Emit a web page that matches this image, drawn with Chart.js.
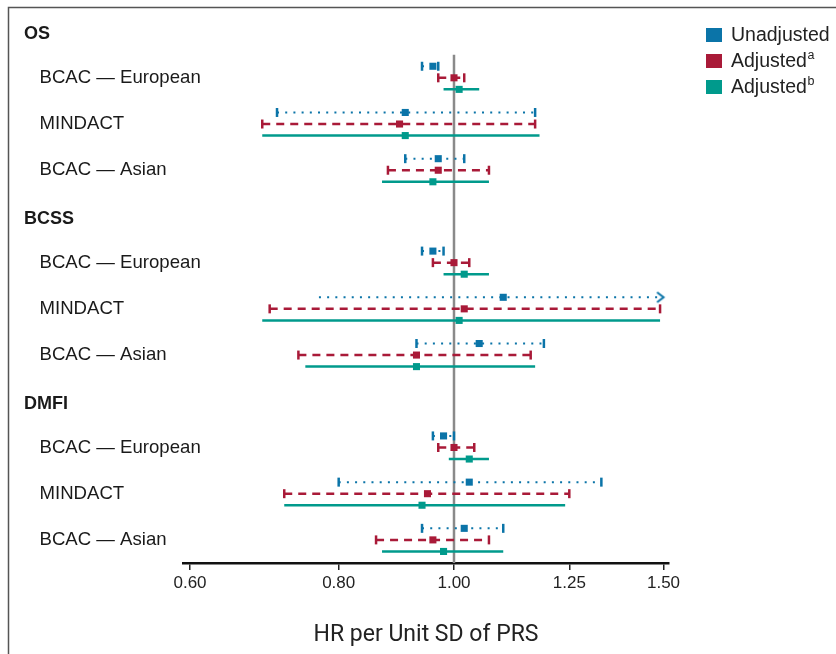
<!DOCTYPE html>
<html>
<head>
<meta charset="utf-8">
<script src="https://cdn.jsdelivr.net/npm/chart.js@4.4.1/dist/chart.umd.min.js"></script>
<style>
html,body{margin:0;padding:0;background:#fff;}
#wrap{position:relative;width:836px;height:654px;}
</style>
</head>
<body>
<div id="wrap"><canvas id="c"></canvas></div>
<script>
// ---------- data ----------
const groups = ['OS', 'BCSS', 'DMFI'];
const cohorts = ['BCAC — European', 'MINDACT', 'BCAC — Asian'];
const seriesNames = ['Unadjusted', 'Adjusted', 'Adjusted'];
const seriesSup = ['', 'a', 'b'];
const xTickValues = [0.60, 0.80, 1.00, 1.25, 1.50];

// order: OS(Eur, MINDACT, Asian), BCSS(...), DMFI(...)
const unadjHR = [0.96, 0.91, 0.97, 0.96, 1.10, 1.05, 0.98, 1.03, 1.02];
const unadjLo = [0.94, 0.71, 0.91, 0.94, 0.77, 0.93, 0.96, 0.80, 0.94];
const unadjHi = [0.97, 1.17, 1.02, 0.98, 1.50, 1.19, 1.00, 1.33, 1.10];
const unadjTruncHi = [false, false, false, false, true, false, false, false, false];
const unadjNoCapLo = [false, false, false, false, true, false, false, false, false];

const adjAHR = [1.00, 0.90, 0.97, 1.00, 1.02, 0.93, 1.00, 0.95, 0.96];
const adjALo = [0.97, 0.69, 0.88, 0.96, 0.70, 0.74, 0.97, 0.72, 0.86];
const adjAHi = [1.02, 1.17, 1.07, 1.03, 1.49, 1.16, 1.04, 1.25, 1.07];

const adjBHR = [1.01, 0.91, 0.96, 1.02, 1.01, 0.93, 1.03, 0.94, 0.98];
const adjBLo = [0.98, 0.69, 0.87, 0.98, 0.69, 0.75, 0.99, 0.72, 0.87];
const adjBHi = [1.05, 1.18, 1.07, 1.07, 1.49, 1.17, 1.07, 1.24, 1.10];

// ---------- styles ----------
const COLORS = ['#0b74a8', '#a91a38', '#009a8c'];
const FONT = "'Liberation Sans', Arial, sans-serif";

// row positions (index units)
const rowLabels = [];
const rowIsHeader = [];
groups.forEach(g => {
  rowLabels.push(g); rowIsHeader.push(true);
  cohorts.forEach(c => { rowLabels.push('   ' + c); rowIsHeader.push(false); });
});
function rowIndex(k) { const g = Math.floor(k / 3), c = k % 3; return g * 4 + 1 + c; }
const offsets = [-0.25, 0, 0.25];
const headerShift = 0.05;

function makeArrow(color) {
  const cv = document.createElement('canvas');
  cv.width = 20; cv.height = 14;
  const g = cv.getContext('2d');
  g.strokeStyle = color; g.lineWidth = 2;
  g.beginPath(); g.moveTo(3.5, 2); g.lineTo(10, 7); g.lineTo(3.5, 12); g.stroke();
  return cv;
}
const arrowBlue = makeArrow(COLORS[0]);

const series = [
  {hr: unadjHR, lo: unadjLo, hi: unadjHi, dash: [2, 6.2], width: 2, caps: true},
  {hr: adjAHR, lo: adjALo, hi: adjAHi, dash: [8, 6], width: 2.5, caps: true},
  {hr: adjBHR, lo: adjBLo, hi: adjBHi, dash: [], width: 2.5, caps: false}
];

const datasets = [];
// reference line at HR = 1
datasets.push({
  data: [{x: 1, y: 0.5}, {x: 1, y: 11.5}],
  showLine: true, borderColor: '#8a8a8a', borderWidth: 2.5,
  pointRadius: 0, order: 10, clip: false
});
series.forEach((s, si) => {
  for (let k = 0; k < 9; k++) {
    const y = rowIndex(k) + offsets[si];
    const isArrow = si === 0 && unadjTruncHi[k];
    const noCapLo = si === 0 && unadjNoCapLo[k];
    datasets.push({
      data: [{x: s.lo[k], y: y}, {x: s.hi[k], y: y}],
      showLine: true,
      borderColor: COLORS[si],
      borderWidth: s.width,
      borderDash: s.dash,
      borderCapStyle: 'butt',
      pointStyle: ['line', isArrow ? arrowBlue : 'line'],
      rotation: [90, isArrow ? 0 : 90],
      pointRadius: [s.caps && !noCapLo ? 4.5 : 0, (s.caps || isArrow) ? (isArrow ? 6 : 4.5) : 0],
      pointBorderColor: COLORS[si],
      pointBackgroundColor: COLORS[si],
      pointBorderWidth: 2.5,
      order: 5, clip: false
    });
  }
  datasets.push({
    data: s.hr.map((v, k) => ({x: v, y: rowIndex(k) + offsets[si]})),
    showLine: false,
    pointStyle: 'rect',
    pointRadius: 5,
    pointBorderWidth: 0,
    pointBackgroundColor: COLORS[si],
    pointBorderColor: COLORS[si],
    order: 1, clip: false
  });
});

// ---------- plugins ----------
const decorPlugin = {
  id: 'decor',
  afterDraw(chart) {
    const ctx = chart.ctx;
    ctx.save();
    // frame
    ctx.strokeStyle = '#555';
    ctx.lineWidth = 1.5;
    ctx.beginPath();
    ctx.moveTo(8.5, 654); ctx.lineTo(8.5, 7.5); ctx.lineTo(836, 7.5);
    ctx.stroke();
    // legend
    const ys = [35, 61, 87];
    seriesNames.forEach((name, i) => {
      ctx.fillStyle = COLORS[i];
      ctx.fillRect(706, ys[i] - 7, 16, 14);
      ctx.fillStyle = '#222';
      ctx.font = '19.5px ' + FONT;
      ctx.textBaseline = 'middle';
      ctx.textAlign = 'left';
      ctx.fillText(name, 731, ys[i] + 1);
      if (seriesSup[i]) {
        const w = ctx.measureText(name).width;
        ctx.font = '12.5px ' + FONT;
        ctx.fillText(seriesSup[i], 731 + w + 0.5, ys[i] - 5);
      }
    });
    ctx.restore();
  }
};

new Chart(document.getElementById('c'), {
  type: 'scatter',
  data: {datasets: datasets},
  options: {
    responsive: true,
    maintainAspectRatio: false,
    devicePixelRatio: 1,
    animation: false,
    events: [],
    layout: {padding: {left: 24, top: 7.5, right: 167, bottom: 5}},
    plugins: {legend: {display: false}, tooltip: {enabled: false}},
    scales: {
      x: {
        type: 'logarithmic',
        min: 0.5919,
        max: 1.516,
        afterBuildTicks: (scale) => { scale.ticks = xTickValues.map(v => ({value: v})); },
        ticks: {
          autoSkip: false,
          maxRotation: 0,
          padding: 3,
          color: '#222',
          font: {family: FONT, size: 17},
          callback: (v) => Number(v).toFixed(2)
        },
        grid: {display: true, drawOnChartArea: false, drawTicks: true, tickLength: 7, color: '#222', lineWidth: 1.5},
        border: {display: true, color: '#111', width: 2.5},
        title: {
          display: true,
          text: 'HR per Unit SD of PRS',
          color: '#222',
          font: {family: "Roboto, 'Liberation Sans', sans-serif", size: 23},
          padding: {top: 25, bottom: 0}
        }
      },
      y: {
        type: 'linear',
        min: -0.5,
        max: 11.5,
        reverse: true,
        afterBuildTicks: (scale) => {
          scale.ticks = rowLabels.map((_, i) => ({value: i + (rowIsHeader[i] ? headerShift : 0)}));
        },
        afterFit: (scale) => { scale.width = 159; },
        ticks: {
          autoSkip: false,
          mirror: true,
          crossAlign: 'near',
          padding: -159,
          color: '#1a1a1a',
          font: (ctx) => ({family: FONT, size: rowIsHeader[ctx.index] ? 18 : 18.6, weight: rowIsHeader[ctx.index] ? 'bold' : 'normal'}),
          callback: (v, i) => rowLabels[i]
        },
        grid: {display: false},
        border: {display: false}
      }
    }
  },
  plugins: [decorPlugin]
});
</script>
</body>
</html>
